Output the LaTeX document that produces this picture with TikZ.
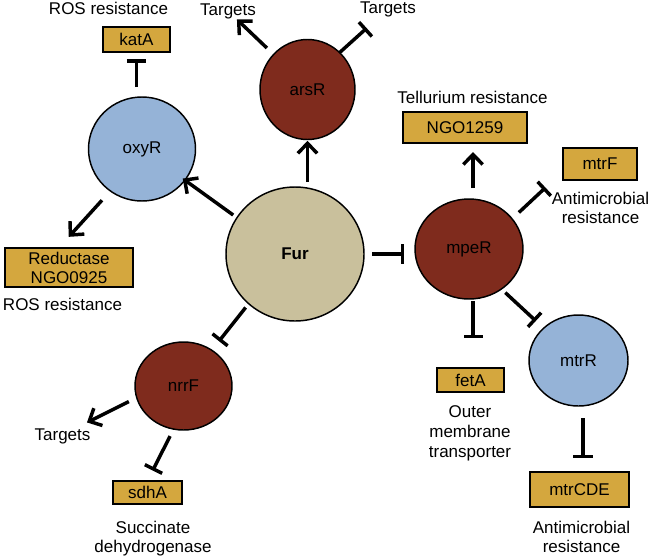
\documentclass[tikz,border=0pt]{standalone}
\usepackage{fontspec}
\setmainfont{Liberation Sans}
\usetikzlibrary{arrows.meta,shapes.geometric}
\definecolor{furc}{RGB}{201,192,156}
\definecolor{bluec}{RGB}{149,179,215}
\definecolor{redc}{RGB}{127,43,29}
\definecolor{goldc}{RGB}{212,167,62}
\begin{document}
\begin{tikzpicture}[x=0.75pt,y=-0.75pt,
  every node/.style={font=\fontsize{12.75}{14.25}\selectfont, outer sep=0pt},
  circ/.style={ellipse, draw=black, line width=1.1pt, inner sep=0pt},
  gene/.style={draw=black, line width=1.1pt, fill=goldc, inner sep=0pt, align=center},
  lbl/.style={inner sep=0pt, align=center},
  act/.style={line width=2.6pt, -{Straight Barb[length=7.5pt,width=14.5pt]}},
  inh/.style={line width=2.6pt, -{Bar[width=14.5pt]}}]
\useasboundingbox (0,0) rectangle (649,557);

% regulators
\node[circ, fill=furc, minimum width=103.5pt, minimum height=100.5pt, font=\fontsize{12.75}{14.25}\selectfont\bfseries] (fur) at (295,254) {Fur};
\node[circ, fill=bluec, minimum width=80.25pt, minimum height=78pt] (oxyR) at (142,149) {oxyR};
\node[circ, fill=redc, minimum width=71.25pt, minimum height=75pt] (arsR) at (307.5,89.5) {arsR};
\node[circ, fill=redc, minimum width=81pt, minimum height=75pt] (mpeR) at (469,249) {mpeR};
\node[circ, fill=bluec, minimum width=74.25pt, minimum height=68.25pt] (mtrR) at (578.5,360.5) {mtrR};
\node[circ, fill=redc, minimum width=72.75pt, minimum height=66pt] (nrrF) at (183.5,386) {nrrF};

% genes
\node[gene, minimum width=50.25pt, minimum height=18.75pt] (katA) at (136.5,39.5) {katA};
\node[gene, minimum width=93pt, minimum height=23.25pt] (ngo) at (465,127.5) {NGO1259};
\node[gene, minimum width=55.5pt, minimum height=24pt] (mtrF) at (600,164) {mtrF};
\node[gene, minimum width=96pt, minimum height=29.25pt] (red) at (69,267.5) {Reductase\\NGO0925};
\node[gene, minimum width=51.75pt, minimum height=17.25pt] (sdhA) at (147.5,492.5) {sdhA};
\node[gene, minimum width=50.25pt, minimum height=18pt] (fetA) at (470.5,380) {fetA};
\node[gene, minimum width=74.25pt, minimum height=26.25pt] (mtrCDE) at (579.5,489.5) {mtrCDE};

% labels
\node[lbl, anchor=base] (rosTop) at (108.5,14) {ROS resistance};
\node[lbl, anchor=base] (tgtA) at (228,15) {Targets};
\node[lbl, anchor=base] (tgtB) at (388,13) {Targets};
\node[lbl, anchor=base] (tell) at (472.5,103) {Tellurium resistance};
\node[lbl, anchor=north] (amrF) at (600.5,191.8) {Antimicrobial\\resistance};
\node[lbl, anchor=base] (rosBot) at (62.5,310) {ROS resistance};
\node[lbl, anchor=base] (tgtC) at (62.5,440) {Targets};
\node[lbl, anchor=north] (succ) at (153,520.8) {Succinate\\dehydrogenase};
\node[lbl, anchor=north, font=\fontsize{12.75}{15}\selectfont] (outer) at (470,405.8) {Outer\\membrane\\transporter};
\node[lbl, anchor=north] (amrB) at (581.5,520.8) {Antimicrobial\\resistance};

% connectors
\draw[act, shorten <=3.5pt, shorten >=-2pt] (fur.148) -- (oxyR.324);
\draw[act, shorten <=3.75pt, shorten >=1pt] (arsR.south |- fur.north) -- (arsR.south);
\draw[act, shorten <=7pt, shorten >=1pt] (arsR.134) -- (tgtA);
\draw[inh, shorten >=13pt] (arsR.49) -- (tgtB);
\draw[inh, shorten <=7.5pt, shorten >=5.6pt] (katA.south |- oxyR.north) -- (katA.south);
\draw[act, shorten <=9.4pt, shorten >=11.3pt] (oxyR.233) -- (red.118);
\draw[inh, shorten <=6pt, shorten >=8.25pt] (fur.east) -- (fur.east -| mpeR.west);
\draw[act, shorten <=8.25pt, shorten >=6.75pt] ([xshift=3pt]mpeR.north) -- ([xshift=3pt]mpeR.north |- ngo.south);
\draw[inh, shorten <=7pt, shorten >=18pt] (mpeR.35) -- (mtrF.191);
\draw[inh, shorten <=1.5pt, shorten >=22.5pt] ([xshift=2pt]fetA.north |- mpeR.south) -- ([xshift=2pt]fetA.north);
\draw[inh, shorten <=4pt, shorten >=8pt] (mpeR.309) -- (mtrR);
\draw[inh, shorten <=9pt, shorten >=10.5pt] ([xshift=2.6pt]mtrCDE.north |- mtrR.south) -- ([xshift=2.6pt]mtrCDE.north);
\draw[inh, shorten <=3.7pt, shorten >=8.7pt] (fur.227) -- (nrrF);
\draw[act, shorten <=6.6pt, shorten >=9.9pt] (nrrF.194) -- (tgtC.31);
\draw[inh, shorten <=5.9pt, shorten >=8.8pt] (nrrF.257) -- (sdhA.north);
\end{tikzpicture}
\end{document}
